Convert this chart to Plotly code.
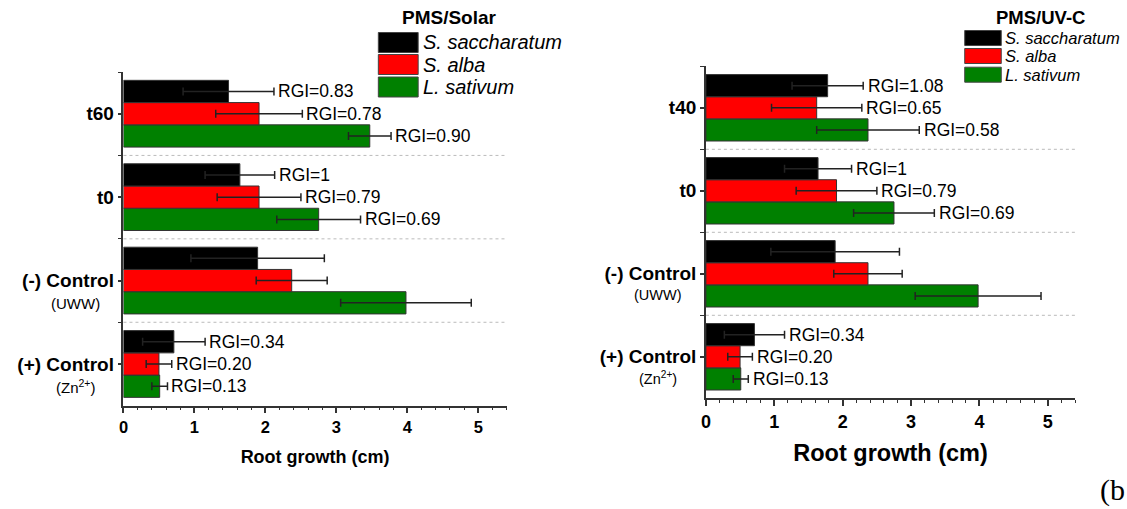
import plotly.graph_objects as go

# ---------------- data ----------------
species = ["S. saccharatum", "S. alba", "L. sativum"]
colors = ["#000000", "#ff0000", "#008000"]

# categories listed bottom -> top
cats_solar = ["(+) Control", "(-) Control", "t0", "t60"]
cats_uvc = ["(+) Control", "(-) Control", "t0", "t40"]
sublabels = ["(Zn<sup>2+</sup>)", "(UWW)", "", ""]

solar_sacch = [0.71, 1.89, 1.64, 1.48]
solar_sacch_err = [0.44, 0.94, 0.49, 0.64]
solar_alba = [0.50, 2.37, 1.91, 1.91]
solar_alba_err = [0.18, 0.50, 0.59, 0.61]
solar_sativ = [0.51, 3.98, 2.75, 3.47]
solar_sativ_err = [0.11, 0.92, 0.59, 0.30]
solar_rgi_sacch = ["RGI=0.34", "", "RGI=1", "RGI=0.83"]
solar_rgi_alba = ["RGI=0.20", "", "RGI=0.79", "RGI=0.78"]
solar_rgi_sativ = ["RGI=0.13", "", "RGI=0.69", "RGI=0.90"]

uvc_sacch = [0.71, 1.89, 1.64, 1.78]
uvc_sacch_err = [0.44, 0.94, 0.49, 0.52]
uvc_alba = [0.50, 2.37, 1.91, 1.62]
uvc_alba_err = [0.18, 0.50, 0.59, 0.66]
uvc_sativ = [0.51, 3.98, 2.75, 2.37]
uvc_sativ_err = [0.11, 0.92, 0.59, 0.75]
uvc_rgi_sacch = ["RGI=0.34", "", "RGI=1", "RGI=1.08"]
uvc_rgi_alba = ["RGI=0.20", "", "RGI=0.79", "RGI=0.65"]
uvc_rgi_sativ = ["RGI=0.13", "", "RGI=0.69", "RGI=0.58"]

panel_titles = ["PMS/Solar", "PMS/UV-C"]
x_title = "Root growth (cm)"
x_ticks = [0, 1, 2, 3, 4, 5]

# ---------------- figure ----------------
W, H = 1127, 509
FONT = "Arial, 'Liberation Sans', sans-serif"
BARGAP = 0.2


def px(x):
    return x / W


def py(y):
    return 1 - y / H


fig = go.Figure()
annotations = []
shapes = []

panels = [
    dict(cats=cats_solar,
         vals=[solar_sacch, solar_alba, solar_sativ],
         errs=[solar_sacch_err, solar_alba_err, solar_sativ_err],
         rgi=[solar_rgi_sacch, solar_rgi_alba, solar_rgi_sativ],
         xa="x", ya="y", xdom=[px(119), px(504)], ydom=[py(405.7), py(72)],
         tickfs=19, xtickfs=16.5, titlefs=18, rgifs=17.5, subfs=15, subshift=-23,
         rgishift=2, title_std=15,
         leg=dict(tx=446, ty=17, tfs=19, bx0=375, bx1=415, by=[42.5, 64.5, 87], bh=20, tx0=418, fs=20)),
    dict(cats=cats_uvc,
         vals=[uvc_sacch, uvc_alba, uvc_sativ],
         errs=[uvc_sacch_err, uvc_alba_err, uvc_sativ_err],
         rgi=[uvc_rgi_sacch, uvc_rgi_alba, uvc_rgi_sativ],
         xa="x2", ya="y2", xdom=[px(704), px(1075)], ydom=[py(398.3), py(66.3)],
         tickfs=19, xtickfs=18, titlefs=23.5, rgifs=17.5, subfs=14.5, subshift=-21,
         rgishift=2.5, title_std=14,
         leg=dict(tx=1040, ty=17, tfs=18.5, bx0=964, bx1=1000.7, by=[38, 56, 74.7], bh=15, tx0=1002, fs=16.5)),
]

for pi, p in enumerate(panels):
    n = len(p["cats"])
    pos = list(range(n))
    ns = len(species)
    w = (1 - BARGAP) / ns
    # horizontal grouped bars: first trace drawn at bottom -> add in reverse
    for k, s in enumerate(reversed(range(ns))):
        fig.add_trace(go.Bar(
            y=pos, x=p["vals"][s], orientation="h", name=species[s],
            marker=dict(color=colors[s], line=dict(color="#333333", width=1)),
            error_x=dict(type="data", array=p["errs"][s], color="#222222",
                         thickness=1.5, width=4),
            xaxis=p["xa"], yaxis=p["ya"], showlegend=False,
        ))
        off = -(1 - BARGAP) / 2 + w * (k + 0.5)
        for i in range(n):
            t = p["rgi"][s][i]
            if t:
                annotations.append(dict(
                    x=p["vals"][s][i] + p["errs"][s][i], y=pos[i] + off,
                    xref=p["xa"], yref=p["ya"], text=t, showarrow=False,
                    xanchor="left", yanchor="middle", xshift=p["rgishift"],
                    font=dict(family=FONT, size=p["rgifs"], color="#000"),
                ))
    # sub labels under tick labels
    for i in range(n):
        if sublabels[i]:
            annotations.append(dict(
                x=0, y=pos[i], xref=p["xa"] + " domain", yref=p["ya"],
                text=sublabels[i], showarrow=False, xanchor="center",
                yanchor="middle", xshift=-48, yshift=p["subshift"],
                font=dict(family=FONT, size=p["subfs"], color="#000"),
            ))
    # dotted separators between groups
    for i in range(n - 1):
        shapes.append(dict(
            type="line", xref=p["xa"] + " domain", yref=p["ya"],
            x0=0, x1=1, y0=pos[i] + 0.5, y1=pos[i] + 0.5,
            line=dict(color="#bbbbbb", width=1, dash="dot"), layer="below",
        ))
    # custom legend
    lg = p["leg"]
    annotations.append(dict(
        x=px(lg["tx"]), y=py(lg["ty"]), xref="paper", yref="paper",
        text="<b>%s</b>" % panel_titles[pi], showarrow=False,
        xanchor="center", yanchor="middle",
        font=dict(family=FONT, size=lg["tfs"], color="#000"),
    ))
    for s in range(ns):
        cy = lg["by"][s]
        shapes.append(dict(
            type="rect", xref="paper", yref="paper",
            x0=px(lg["bx0"]), x1=px(lg["bx1"]),
            y0=py(cy + lg["bh"] / 2), y1=py(cy - lg["bh"] / 2),
            fillcolor=colors[s], line=dict(color="#444444", width=1),
        ))
        annotations.append(dict(
            x=px(lg["tx0"]), y=py(cy), xref="paper", yref="paper",
            text="<i>%s</i>" % species[s], showarrow=False,
            xanchor="left", yanchor="middle",
            font=dict(family=FONT, size=lg["fs"], color="#000"),
        ))

axis_common_x = dict(
    range=[0, 5.4], tickvals=x_ticks, ticks="outside", ticklen=6, tickwidth=1.5,
    tickcolor="#333", showline=True, linecolor="#333", linewidth=1.5,
    showgrid=False, zeroline=False,
    minor=dict(dtick=0.2, tick0=0, ticks="outside", ticklen=3, tickwidth=1,
               tickcolor="#333", showgrid=False),
)

for idx, p in enumerate(panels):
    n = len(p["cats"])
    xkey = "xaxis" if idx == 0 else "xaxis2"
    ykey = "yaxis" if idx == 0 else "yaxis2"
    fig.layout[xkey] = dict(
        axis_common_x, domain=p["xdom"], anchor=p["ya"],
        tickfont=dict(family=FONT, size=p["xtickfs"], color="#000", weight="bold"),
        title=dict(text="<b>%s</b>" % x_title, standoff=p["title_std"],
                   font=dict(family=FONT, size=p["titlefs"], color="#000")),
    )
    fig.layout[ykey] = dict(
        domain=p["ydom"], anchor=p["xa"], range=[-0.5, n - 0.5],
        tickvals=list(range(n)), ticktext=p["cats"],
        ticks="outside", ticklen=4, tickwidth=1.5, tickcolor="#333",
        showline=True, linecolor="#333", linewidth=1.5,
        showgrid=False, zeroline=False,
        tickfont=dict(family=FONT, size=p["tickfs"], color="#000", weight="bold"),
        minor=dict(tickvals=[i + 0.5 for i in range(n)], ticks="outside",
                   ticklen=4, tickwidth=1, tickcolor="#333", showgrid=False),
    )

annotations.append(dict(
    x=1, y=0, xref="paper", yref="paper", text="(b",
    showarrow=False, xanchor="right", yanchor="bottom",
    font=dict(family="'Liberation Serif', 'DejaVu Serif', serif", size=30, color="#000"),
))

fig.update_layout(
    width=W, height=H, autosize=False,
    margin=dict(l=0, r=0, t=0, b=0),
    paper_bgcolor="white", plot_bgcolor="white",
    barmode="group", bargap=BARGAP, bargroupgap=0,
    annotations=annotations, shapes=shapes,
    showlegend=False,
)

fig.write_html("out.html", config={"displayModeBar": False},
               post_script="document.body.style.margin='0';document.body.style.overflow='hidden';")
